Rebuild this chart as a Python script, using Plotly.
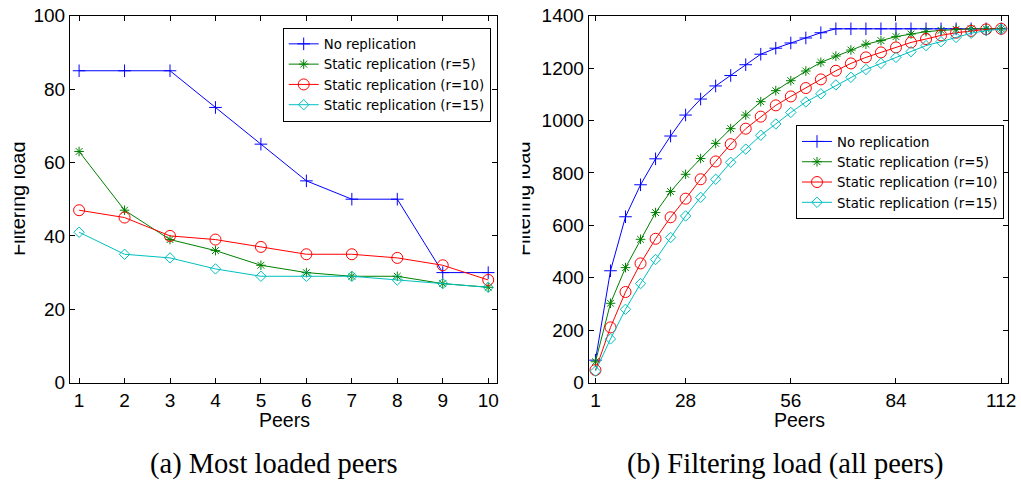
import plotly.graph_objects as go

# ---------------- data ----------------
peers_a = [1, 2, 3, 4, 5, 6, 7, 8, 9, 10]
a_norep = [85, 85, 85, 75, 65, 55, 50, 50, 30, 30]
a_r5 = [63, 47, 39, 36, 32, 30, 29, 29, 27, 26]
a_r10 = [47, 45, 40, 39, 37, 35, 35, 34, 32, 28]
a_r15 = [41, 35, 34, 31, 29, 29, 29, 28, 27, 26]

peers_b = [4, 8, 12, 16, 20, 24, 28, 32, 36, 40, 44, 48, 52, 56,
           60, 64, 68, 72, 76, 80, 84, 88, 92, 96, 100, 104, 108, 112]
b_norep = [86, 427, 633, 755, 854, 941, 1021, 1082, 1132, 1172, 1213, 1253, 1276, 1296,
           1315, 1335, 1350, 1350, 1350, 1350, 1350, 1350, 1350, 1350, 1350, 1350, 1350, 1350]
b_r5 = [80, 303, 439, 547, 649, 729, 795, 855, 913, 969, 1021, 1072, 1114, 1152,
        1189, 1222, 1246, 1269, 1291, 1305, 1320, 1330, 1339, 1344, 1348, 1350, 1350, 1350]
b_r10 = [48, 211, 346, 455, 549, 631, 702, 776, 844, 910, 969, 1015, 1058, 1092,
         1124, 1157, 1190, 1218, 1241, 1260, 1279, 1298, 1311, 1325, 1335, 1342, 1348, 1350]
b_r15 = [44, 167, 280, 378, 470, 554, 636, 707, 776, 841, 891, 944, 987, 1031,
         1071, 1102, 1136, 1165, 1195, 1218, 1241, 1263, 1286, 1301, 1317, 1333, 1343, 1349]

series_names = ["No replication", "Static replication (r=5)",
                "Static replication (r=10)", "Static replication (r=15)"]
colors = ["#0000ff", "#008000", "#ff0000", "#00bfbf"]
symbols = ["cross-thin-open", "asterisk-open", "circle-open", "diamond-open"]
sizes = [9, 8, 11, 8]

xticks_b = [4, 28, 56, 84, 112]
xticktext_b = ["1", "28", "56", "84", "112"]

W, H = 1021, 481
FONT = "Liberation Sans, Arial, sans-serif"
LEGFONT = "DejaVu Sans, sans-serif"
SERIF = "Liberation Serif, Times New Roman, serif"

fig = go.Figure()

for i, ys in enumerate([a_norep, a_r5, a_r10, a_r15]):
    fig.add_trace(go.Scatter(
        x=peers_a, y=ys, mode="lines+markers", name=series_names[i],
        line=dict(color=colors[i], width=1),
        marker=dict(symbol=symbols[i], size=sizes[i], color=colors[i],
                    line=dict(color=colors[i], width=1)),
        xaxis="x", yaxis="y", legend="legend"))

for i, ys in enumerate([b_norep, b_r5, b_r10, b_r15]):
    fig.add_trace(go.Scatter(
        x=peers_b, y=ys, mode="lines+markers", name=series_names[i],
        line=dict(color=colors[i], width=1),
        marker=dict(symbol=symbols[i], size=sizes[i], color=colors[i],
                    line=dict(color=colors[i], width=1)),
        xaxis="x2", yaxis="y2", legend="legend2"))


def px(x):
    return x / W


def py(y):
    return (H - y) / H


ydom = [py(382.7), py(15.7)]
axis_common = dict(showline=True, linecolor="black", linewidth=1, mirror="ticks",
                   ticks="inside", ticklen=5, tickcolor="black", tickwidth=1,
                   showgrid=False, zeroline=False, automargin=False,
                   tickfont=dict(family=FONT, size=19, color="black"))

fig.update_layout(
    width=W, height=H,
    margin=dict(l=0, r=0, t=0, b=0, autoexpand=False),
    paper_bgcolor="white", plot_bgcolor="white",
    xaxis=dict(domain=[px(70), px(497.3)], range=[0.8, 10.2],
               tickvals=peers_a, anchor="y", **axis_common),
    yaxis=dict(domain=ydom, range=[0, 100], tickvals=[0, 20, 40, 60, 80, 100],
               anchor="x", **axis_common),
    xaxis2=dict(domain=[px(588.7), px(1008.3)], range=[2.2, 113.9],
                tickvals=xticks_b, ticktext=xticktext_b, anchor="y2", **axis_common),
    yaxis2=dict(domain=ydom, range=[0, 1400],
                tickvals=[0, 200, 400, 600, 800, 1000, 1200, 1400],
                anchor="x2", **axis_common),
    legend=dict(x=px(282.7), y=py(27.7), xanchor="left", yanchor="top",
                bgcolor="white", bordercolor="black", borderwidth=1,
                font=dict(family=LEGFONT, size=13.3, color="black"),
                tracegroupgap=0, itemwidth=30),
    legend2=dict(x=px(796), y=py(125.3), xanchor="left", yanchor="top",
                 bgcolor="white", bordercolor="black", borderwidth=1,
                 font=dict(family=LEGFONT, size=13.3, color="black"),
                 tracegroupgap=0, itemwidth=30),
    showlegend=True,
)

annos = [
    dict(text="Peers", x=px(284.3), y=py(419.5), xref="paper", yref="paper",
         showarrow=False, xanchor="center", yanchor="middle",
         font=dict(family=FONT, size=19.5, color="black")),
    dict(text="Peers", x=px(799), y=py(419.5), xref="paper", yref="paper",
         showarrow=False, xanchor="center", yanchor="middle",
         font=dict(family=FONT, size=19.5, color="black")),
    dict(text="Filtering load", x=px(18), y=py(199), xref="paper", yref="paper",
         showarrow=False, xanchor="center", yanchor="middle", textangle=-90,
         font=dict(family=FONT, size=20, color="black")),
    dict(text="Filtering load", x=px(523), y=py(199), xref="paper", yref="paper",
         showarrow=False, xanchor="center", yanchor="middle", textangle=-90,
         font=dict(family=FONT, size=20, color="black")),
    # white masks reproducing the clipped axis labels of the original
    dict(text=" ", x=px(0), y=py(199), xref="paper", yref="paper", showarrow=False,
         xanchor="left", yanchor="middle", width=12.5, height=150, borderpad=0,
         bgcolor="white"),
    dict(text=" ", x=px(503), y=py(199), xref="paper", yref="paper", showarrow=False,
         xanchor="left", yanchor="middle", width=17.5, height=150, borderpad=0,
         bgcolor="white"),
    dict(text="(a) Most loaded peers", x=px(274), y=py(464), xref="paper", yref="paper",
         showarrow=False, xanchor="center", yanchor="middle",
         font=dict(family=SERIF, size=28.5, color="black")),
    dict(text="(b) Filtering load (all peers)", x=px(785), y=py(464), xref="paper",
         yref="paper", showarrow=False, xanchor="center", yanchor="middle",
         font=dict(family=SERIF, size=28.5, color="black")),
]
fig.update_layout(annotations=annos)

fig.write_html("out.html")
